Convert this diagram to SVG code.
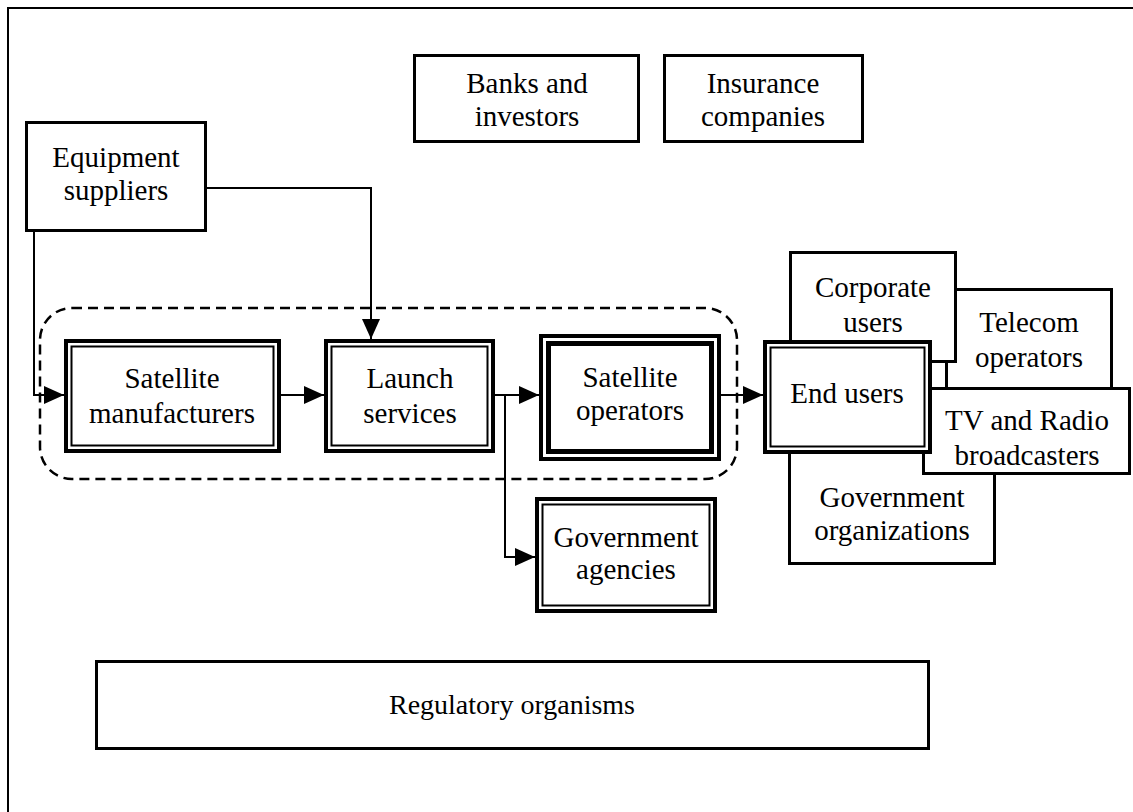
<svg xmlns="http://www.w3.org/2000/svg" width="1133" height="812" viewBox="0 0 1133 812">
<style>
text{font-family:"Liberation Serif","Times New Roman",serif;font-size:29px;fill:#000;text-anchor:middle}
.box{fill:#fff;stroke:#000;stroke-width:3}
.outer{fill:#fff;stroke:#000;stroke-width:4}
.inner{fill:none;stroke:#000;stroke-width:2}
.thick{fill:none;stroke:#000;stroke-width:5}
.conn{fill:none;stroke:#000;stroke-width:2}
.dash{fill:none;stroke:#000;stroke-width:2.5;stroke-dasharray:10 6}
.frame{fill:none;stroke:#000;stroke-width:2}
</style>
<defs>
<marker id="arr" markerUnits="userSpaceOnUse" markerWidth="20" markerHeight="18" refX="20" refY="9" orient="auto">
<path d="M0,0 L20,9 L0,18 z" fill="#000"/>
</marker>
</defs>
<rect width="1133" height="812" fill="#fff"/>
<path class="frame" d="M8,812 V8 H1133"/>

<g id="banks"><rect class="box" x="414.5" y="55.5" width="224" height="86"/><text x="527" y="93">Banks and</text><text x="527" y="126">investors</text></g>
<g id="insurance"><rect class="box" x="664.5" y="55.5" width="198" height="86"/><text x="763" y="93">Insurance</text><text x="763" y="126">companies</text></g>
<g id="equipment"><rect class="box" x="26.5" y="122.5" width="179" height="108"/><text x="116" y="167">Equipment</text><text x="116" y="200">suppliers</text></g>

<g id="group-boundary"><rect class="dash" x="40" y="308" width="697" height="171" rx="32" ry="32"/></g>

<g id="sat-manufacturers"><rect class="outer" x="66" y="341" width="213" height="110"/><rect class="inner" x="71.5" y="346.5" width="202" height="99"/><text x="172" y="388">Satellite</text><text x="172" y="423">manufacturers</text></g>
<g id="launch"><rect class="outer" x="326" y="341" width="167" height="110"/><rect class="inner" x="331.5" y="346.5" width="156" height="99"/><text x="410" y="388">Launch</text><text x="410" y="423">services</text></g>
<g id="sat-operators"><rect class="outer" x="541" y="336" width="178" height="123"/><rect class="thick" x="548.5" y="343.5" width="163" height="108"/><text x="630" y="387">Satellite</text><text x="630" y="420">operators</text></g>
<g id="gov-agencies"><rect class="outer" x="537" y="499" width="178" height="112"/><rect class="inner" x="542.5" y="504.5" width="167" height="101"/><text x="626" y="547">Government</text><text x="626" y="579">agencies</text></g>

<g id="telecom"><rect class="box" x="946.5" y="289.5" width="165" height="110"/><text x="1029" y="332">Telecom</text><text x="1029" y="367">operators</text></g>
<g id="corporate"><rect class="box" x="790.5" y="252.5" width="165" height="109"/><text x="873" y="297">Corporate</text><text x="873" y="332">users</text></g>
<g id="gov-organizations"><rect class="box" x="789.5" y="430" width="205" height="133.5"/><text x="892" y="507">Government</text><text x="892" y="540">organizations</text></g>
<g id="tv-radio"><rect class="box" x="923.5" y="388.5" width="206" height="85"/><text x="1027" y="430">TV and Radio</text><text x="1027" y="465">broadcasters</text></g>
<g id="end-users"><rect class="outer" x="765" y="342" width="165" height="110"/><rect class="inner" x="770.5" y="347.5" width="154" height="99"/><text x="847" y="403">End users</text></g>

<g id="regulatory"><rect class="box" x="96.5" y="661.5" width="832" height="87"/><text x="512" y="714" style="font-size:28px">Regulatory organisms</text></g>

<g id="connectors">
<path class="conn" d="M34,232 V395 H64" marker-end="url(#arr)"/>
<path class="conn" d="M207,188 H371 V339" marker-end="url(#arr)"/>
<path class="conn" d="M281,395 H324" marker-end="url(#arr)"/>
<path class="conn" d="M495,395 H539" marker-end="url(#arr)"/>
<path class="conn" d="M505,395 V557 H535" marker-end="url(#arr)"/>
<path class="conn" d="M721,395 H763" marker-end="url(#arr)"/>
</g>
</svg>
